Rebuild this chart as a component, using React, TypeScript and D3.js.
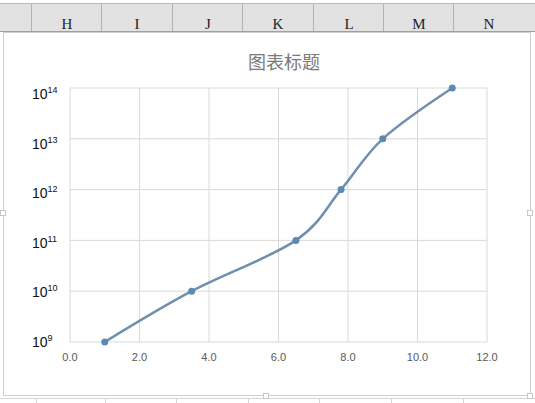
import React from "react";
import * as d3 from "d3";

// column letters shown in the sheet header and where their borders sit
const columnLetters = ["H", "I", "J", "K", "L", "M", "N"];
const headerBorders = [31, 101, 172, 242, 313, 383, 453];
const footerBorders = [36, 105, 176, 248, 319, 391, 463];

// series (x, y)
const xValues = [1, 3.5, 6.5, 7.8, 9, 11];
const yValues = [1e9, 1e10, 1e11, 1e12, 1e13, 1e14];

const xTicks = [0, 2, 4, 6, 8, 10, 12];
const yTicks = [1e9, 1e10, 1e11, 1e12, 1e13, 1e14];

const title = "图表标题";

const W = 535;
const H = 403;

const App: React.FC = () => {
  const plot = { left: 70, right: 487, top: 88, bottom: 342 };

  const xScale = d3.scaleLinear().domain([0, 12]).range([plot.left, plot.right]);
  const yScale = d3.scaleLog().domain([1e9, 1e14]).range([plot.bottom, plot.top]);
  // tick labels drift a little from the gridlines in the screenshot
  const yLabelScale = d3.scaleLog().domain([1e9, 1e14]).range([347, 99]);

  const pts = xValues.map((x, i) => [xScale(x), yScale(yValues[i])] as [number, number]);
  const line = d3.line().curve(d3.curveCardinal.tension(0))(pts) || "";

  const handles: [number, number][] = [
    [3, 213],
    [530, 213],
    [266, 396],
    [530, 396],
  ];

  return (
    <svg
      width={W}
      height={H}
      style={{ position: "absolute", left: 0, top: 0, background: "#ffffff" }}
    >
      {/* sheet header */}
      <rect x={0} y={3} width={W} height={29} fill="#e2e2e2" />
      <line x1={0} x2={W} y1={3.5} y2={3.5} stroke="#b9b9b9" />
      <line x1={0} x2={W} y1={31.5} y2={31.5} stroke="#9f9f9f" />
      {headerBorders.map((x) => (
        <line key={x} x1={x + 0.5} x2={x + 0.5} y1={4} y2={31} stroke="#b4b4b4" />
      ))}
      {columnLetters.map((c, i) => (
        <text
          key={c}
          x={headerBorders[i] + 36}
          y={29}
          textAnchor="middle"
          fontFamily="'Liberation Serif', 'DejaVu Serif', serif"
          fontSize={15}
          fill="#222"
        >
          {c}
        </text>
      ))}

      {/* cells under the chart */}
      <line x1={0} x2={W} y1={398.5} y2={398.5} stroke="#d4d4d4" />
      {footerBorders.map((x) => (
        <line key={x} x1={x + 0.5} x2={x + 0.5} y1={398} y2={H} stroke="#d4d4d4" />
      ))}

      {/* chart area */}
      <rect x={3.5} y={32.5} width={527} height={363} fill="#ffffff" stroke="#cfcfcf" />

      <text
        x={284}
        y={69}
        textAnchor="middle"
        fontFamily="'Noto Sans CJK SC', sans-serif"
        fontSize={18}
        fill="#7a7a7a"
      >
        {title}
      </text>

      {/* gridlines */}
      {xTicks.map((t) => (
        <line
          key={"gx" + t}
          x1={xScale(t)}
          x2={xScale(t)}
          y1={plot.top}
          y2={plot.bottom}
          stroke="#d9d9d9"
        />
      ))}
      {yTicks.map((t) => (
        <line
          key={"gy" + t}
          x1={plot.left}
          x2={plot.right}
          y1={yScale(t)}
          y2={yScale(t)}
          stroke="#d9d9d9"
        />
      ))}

      {/* y labels */}
      {yTicks.map((t) => (
        <text
          key={"ly" + t}
          x={32}
          y={yLabelScale(t)}
          fontFamily="'Liberation Sans', Arial, sans-serif"
          fontSize={14}
          fill="#111"
        >
          10
          <tspan fontSize={9} dy={-6}>
            {Math.round(Math.log10(t))}
          </tspan>
        </text>
      ))}

      {/* x labels */}
      {xTicks.map((t) => (
        <text
          key={"lx" + t}
          x={xScale(t)}
          y={361}
          textAnchor="middle"
          fontFamily="'Liberation Sans', Arial, sans-serif"
          fontSize={11}
          fill="#595959"
        >
          {t.toFixed(1)}
        </text>
      ))}

      {/* series */}
      <path d={line} fill="none" stroke="#6f8fae" strokeWidth={2.5} />
      {pts.map(([x, y], i) => (
        <circle key={i} cx={x} cy={y} r={3.5} fill="#5d89b3" />
      ))}

      {/* selection handles */}
      {handles.map(([x, y], i) => (
        <rect
          key={"h" + i}
          x={x - 2.5}
          y={y - 2.5}
          width={5}
          height={5}
          fill="#ffffff"
          stroke="#c8c8c8"
        />
      ))}
    </svg>
  );
};

export default App;
